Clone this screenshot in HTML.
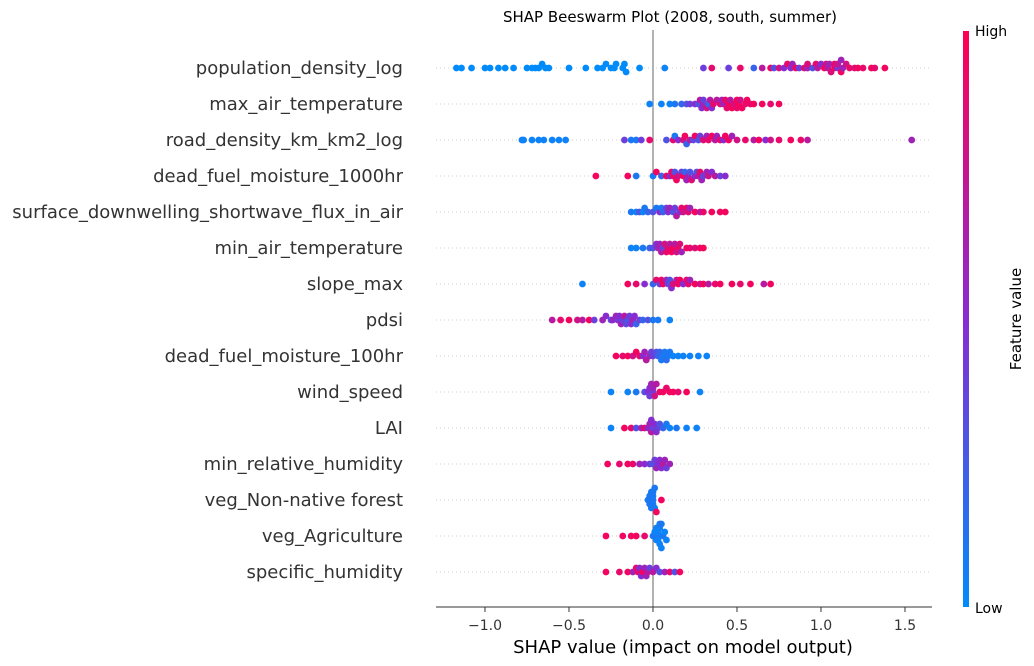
<!DOCTYPE html>
<html><head><meta charset="utf-8"><style>
body{margin:0;background:#fff;}
svg{display:block;font-family:"DejaVu Sans","Liberation Sans",sans-serif;}
</style></head><body>
<svg id="chart" width="1034" height="666"></svg>
<script>
const features=["population_density_log","max_air_temperature","road_density_km_km2_log","dead_fuel_moisture_1000hr","surface_downwelling_shortwave_flux_in_air","min_air_temperature","slope_max","pdsi","dead_fuel_moisture_100hr","wind_speed","LAI","min_relative_humidity","veg_Non-native forest ","veg_Agriculture ","specific_humidity"];
const xTicks=[-1.0,-0.5,0.0,0.5,1.0,1.5];
const xTickLabels=["\u22121.0","\u22120.5","0.0","0.5","1.0","1.5"];
// SHAP values per feature
const shapVals=[
[-1.17,-1.14,-1.08,-1.0,-0.97,-0.92,-0.88,-0.83,-0.75,-0.72,-0.7,-0.68,-0.66,-0.64,-0.62,-0.5,-0.4,-0.33,-0.3,-0.28,-0.25,-0.23,-0.22,-0.18,-0.17,-0.16,-0.08,0.07,0.3,0.35,0.45,0.52,0.6,0.65,0.7,0.72,0.75,0.78,0.8,0.83,0.85,0.87,0.9,0.92,0.95,0.97,0.98,1.0,1.02,1.03,1.05,1.06,1.08,1.1,1.1,1.12,1.13,1.15,1.17,1.2,1.22,1.25,1.3,1.32,1.38,1.04,1.08,1.12,0.82,0.92],
[-0.02,0.05,0.1,0.13,0.17,0.2,0.22,0.25,0.27,0.28,0.3,0.32,0.33,0.35,0.36,0.38,0.4,0.42,0.43,0.45,0.46,0.48,0.5,0.5,0.52,0.53,0.55,0.56,0.58,0.6,0.65,0.7,0.75,0.3,0.41,0.47,0.34,0.44,0.51,0.29],
[-0.78,-0.77,-0.72,-0.68,-0.65,-0.6,-0.56,-0.52,-0.17,-0.13,-0.1,-0.07,-0.02,0.08,0.12,0.15,0.18,0.2,0.22,0.25,0.27,0.3,0.32,0.35,0.37,0.4,0.42,0.45,0.47,0.5,0.55,0.6,0.63,0.67,0.7,0.75,0.82,0.88,0.92,1.54,0.24,0.33,0.38,0.13,0.19,0.28,0.43],
[-0.34,-0.15,-0.1,0.0,0.02,0.05,0.08,0.1,0.12,0.13,0.15,0.17,0.18,0.2,0.22,0.23,0.25,0.27,0.28,0.3,0.32,0.33,0.35,0.37,0.4,0.43,0.14,0.21,0.26,0.11,0.19,0.29],
[-0.13,-0.1,-0.08,-0.05,-0.03,0.0,0.02,0.04,0.06,0.08,0.1,0.12,0.14,0.16,0.18,0.2,0.22,0.25,0.28,0.3,0.35,0.4,0.43,0.05,0.13,0.21,-0.06,0.09,0.17],
[-0.13,-0.1,-0.06,-0.02,0.0,0.02,0.04,0.05,0.07,0.08,0.1,0.12,0.14,0.15,0.17,0.2,0.22,0.25,0.28,0.3,0.06,0.11,0.16,0.03,0.09,0.13],
[-0.42,-0.15,-0.1,-0.05,0.0,0.02,0.04,0.06,0.08,0.1,0.12,0.14,0.16,0.18,0.2,0.22,0.25,0.28,0.3,0.33,0.37,0.4,0.47,0.52,0.58,0.66,0.7,0.09,0.15,0.05,0.11,0.21],
[-0.6,-0.55,-0.5,-0.45,-0.42,-0.38,-0.35,-0.3,-0.28,-0.25,-0.22,-0.2,-0.18,-0.17,-0.15,-0.13,-0.12,-0.1,-0.08,-0.06,-0.03,0.0,0.03,0.1,-0.21,-0.16,-0.11,-0.19,-0.14,-0.24],
[-0.22,-0.18,-0.15,-0.12,-0.1,-0.08,-0.06,-0.04,-0.02,0.0,0.02,0.04,0.06,0.08,0.1,0.12,0.15,0.18,0.22,0.27,0.32,-0.05,0.03,0.09,-0.01,0.05,0.07],
[-0.25,-0.15,-0.1,-0.05,-0.03,-0.01,0.0,0.02,0.04,0.06,0.08,0.1,0.12,0.15,0.2,0.28,-0.02,0.01,-0.02,0.0],
[-0.25,-0.17,-0.13,-0.1,-0.07,-0.05,-0.03,-0.01,0.0,0.02,0.04,0.06,0.08,0.1,0.14,0.2,0.26,-0.02,0.03,-0.01,0.01],
[-0.27,-0.2,-0.15,-0.12,-0.08,-0.05,-0.02,0.0,0.02,0.04,0.06,0.08,0.1,0.01,0.05,0.03,0.07],
[-0.03,-0.02,-0.01,0.0,0.0,0.01,0.02,0.05,-0.01,0.0,0.01,-0.02,0.0],
[-0.28,-0.18,-0.13,-0.1,-0.05,0.0,0.01,0.02,0.03,0.04,0.05,0.06,0.07,0.08,0.02,0.04,0.05,0.03,0.03,0.04],
[-0.28,-0.2,-0.15,-0.12,-0.1,-0.08,-0.06,-0.04,-0.02,0.0,0.02,0.04,0.07,0.1,0.13,0.16,-0.07,-0.03,-0.09,-0.05]
];
// Feature values (0 = low, 1 = high) per point
const featVals=[
[0,0,0,0,0,0,0,0,0,0,0,0,0,0,0,0,0,0,0,0,0,0,0,0,0,0,0,0.05,0.4,0.9,0.4,0.9,0.2,0.7,0.95,0.3,0.8,0.5,0.9,0.6,0.95,0.4,0.85,0.6,0.3,0.9,0.7,0.5,0.95,0.8,0.6,0.85,0.9,0.45,0.75,0.95,0.6,0.8,0.9,0.85,0.95,0.9,0.95,0.9,0.95,0.7,0.9,0.6,0.5,0.85],
[0.05,0.05,0.05,0.1,0.2,0.3,0.4,0.5,0.3,0.7,0.6,0.8,0.2,0.5,0.9,0.7,0.85,0.6,0.9,0.95,0.7,0.85,0.95,0.9,0.8,0.95,0.9,0.95,0.9,0.95,0.95,0.9,0.95,0.4,0.6,0.95,0.7,0.9,0.95,0.5],
[0.05,0.05,0.05,0.05,0.05,0.05,0.05,0.05,0.4,0.1,0.1,0.4,0.9,0.3,0.9,0.5,0.8,0.2,0.7,0.95,0.3,0.85,0.6,0.95,0.7,0.9,0.5,0.95,0.6,0.8,0.9,0.7,0.95,0.5,0.8,0.9,0.95,0.9,0.7,0.6,0.35,0.9,0.6,0.1,0.95,0.4,0.95],
[0.95,0.95,0.1,0.1,0.95,0.2,0.95,0.5,0.9,0.3,0.8,0.4,0.95,0.6,0.3,0.85,0.5,0.7,0.9,0.4,0.6,0.8,0.5,0.7,0.4,0.5,0.95,0.6,0.3,0.9,0.2,0.6],
[0.1,0.05,0.3,0.1,0.2,0.3,0.1,0.5,0.2,0.4,0.6,0.3,0.7,0.5,0.8,0.9,0.6,0.95,0.7,0.9,0.95,0.95,0.95,0.1,0.4,0.85,0.05,0.5,0.9],
[0.05,0.05,0.1,0.2,0.3,0.5,0.6,0.7,0.8,0.9,0.7,0.95,0.8,0.9,0.6,0.95,0.9,0.85,0.95,0.95,0.4,0.95,0.85,0.6,0.9,0.7],
[0.05,0.95,0.9,0.5,0.2,0.9,0.4,0.95,0.6,0.3,0.85,0.7,0.95,0.5,0.9,0.6,0.95,0.8,0.95,0.7,0.9,0.95,0.95,0.9,0.95,0.7,0.95,0.35,0.9,0.9,0.5,0.9],
[0.7,0.9,0.95,0.8,0.7,0.95,0.4,0.6,0.5,0.3,0.6,0.5,0.4,0.7,0.3,0.5,0.6,0.2,0.4,0.2,0.3,0.1,0.1,0.05,0.45,0.35,0.5,0.6,0.4,0.55],
[0.95,0.9,0.95,0.8,0.95,0.9,0.5,0.7,0.6,0.4,0.3,0.2,0.1,0.15,0.1,0.05,0.05,0.05,0.05,0.05,0.05,0.6,0.2,0.1,0.4,0.1,0.1],
[0.05,0.05,0.1,0.3,0.5,0.6,0.4,0.7,0.9,0.95,0.9,0.95,0.95,0.9,0.95,0.05,0.5,0.8,0.4,0.6],
[0.05,0.95,0.9,0.3,0.6,0.9,0.5,0.7,0.4,0.5,0.3,0.2,0.1,0.05,0.1,0.05,0.05,0.6,0.4,0.5,0.5],
[0.95,0.9,0.95,0.9,0.6,0.5,0.4,0.3,0.6,0.5,0.7,0.4,0.6,0.4,0.5,0.5,0.6],
[0.1,0.1,0.1,0.1,0.1,0.1,0.95,0.95,0.1,0.1,0.1,0.1,0.1],
[0.95,0.95,0.95,0.95,0.9,0.1,0.05,0.05,0.1,0.05,0.05,0.1,0.05,0.05,0.05,0.05,0.1,0.05,0.05,0.1],
[0.95,0.9,0.95,0.6,0.9,0.5,0.95,0.6,0.4,0.7,0.5,0.3,0.6,0.9,0.3,0.95,0.5,0.7,0.9,0.6]
];

const svg=document.getElementById('chart');
const NS='http://www.w3.org/2000/svg';
function mk(tag,attrs,parent){const e=document.createElementNS(NS,tag);for(const k in attrs)e.setAttribute(k,attrs[k]);(parent||svg).appendChild(e);return e;}
const x0=653, pxPer=168, rowTop=68, rowStep=36;
function xs(v){return x0+v*pxPer;}
function ys(i){return rowTop+i*rowStep;}
function lerp(a,b,t){return Math.round(a+(b-a)*t);}
function color(t){
  const c0=[0,139,251],c1=[136,44,210],c2=[255,0,82];
  let a,b,u; if(t<0.5){a=c0;b=c1;u=t/0.5;}else{a=c1;b=c2;u=(t-0.5)/0.5;}
  return `rgb(${lerp(a[0],b[0],u)},${lerp(a[1],b[1],u)},${lerp(a[2],b[2],u)})`;
}
const defs=mk('defs',{});
const g=mk('linearGradient',{id:'cb',x1:0,y1:1,x2:0,y2:0},defs);
[0,0.25,0.5,0.75,1].forEach(t=>mk('stop',{offset:t,'stop-color':color(t)},g));

features.forEach((f,i)=>{
  const l=mk('line',{x1:436,x2:932,y1:ys(i),y2:ys(i),stroke:'#ccc','stroke-width':1,'stroke-dasharray':'1,3'});
  
  
  const t=mk('text',{x:403,y:ys(i)+6,'text-anchor':'end','font-size':18,fill:'#333'});
  t.textContent=f;
  
  
});
const zl=mk('line',{x1:xs(0),x2:xs(0),y1:30,y2:607,stroke:'#999','stroke-width':1.5});



const dots=mk('g',{});


shapVals.forEach((arr,i)=>{
  const idx=arr.map((v,j)=>j).sort((a,b)=>arr[a]-arr[b]);
  const bins={};
  idx.forEach(j=>{
    const v=arr[j];
    const b=Math.round(xs(v)/5);
    const n=bins[b]||0; bins[b]=n+1;
    let off=(n===0)?0:((n%2?-1:1)*Math.ceil(n/2)*4);
    if(Math.abs(off)>14) off=Math.sign(off)*(14-(Math.abs(off)%12)/2);
    const c=mk('circle',{cx:xs(v),cy:ys(i)+off,r:3.4,fill:color(featVals[i][j])},dots);
    
    
  });
});

const ax=mk('line',{x1:436,x2:932,y1:607,y2:607,stroke:'#333','stroke-width':1});


xTicks.forEach((v,k)=>{
  const tk=mk('line',{x1:xs(v),x2:xs(v),y1:607,y2:612,stroke:'#333'});
  
  
  const t=mk('text',{x:xs(v),y:630,'text-anchor':'middle','font-size':14,fill:'#333'});
  t.textContent=xTickLabels[k];
  
  
});
const xt=mk('text',{x:683,y:653,'text-anchor':'middle','font-size':18,fill:'#000'});
xt.textContent='SHAP value (impact on model output)';


const tt=mk('text',{x:670,y:22,'text-anchor':'middle','font-size':15,fill:'#000'});
tt.textContent='SHAP Beeswarm Plot (2008, south, summer)';



const cb=mk('rect',{x:963,y:31,width:6,height:576,fill:'url(#cb)'});


const hi=mk('text',{x:975,y:36,'font-size':14,fill:'#000'});hi.textContent='High';


const lo=mk('text',{x:975,y:613,'font-size':14,fill:'#000'});lo.textContent='Low';


const fv=mk('text',{x:1021,y:319,'text-anchor':'middle','font-size':15,fill:'#000',transform:'rotate(-90 1021 319)'});
fv.textContent='Feature value';


</script>
</body></html>
